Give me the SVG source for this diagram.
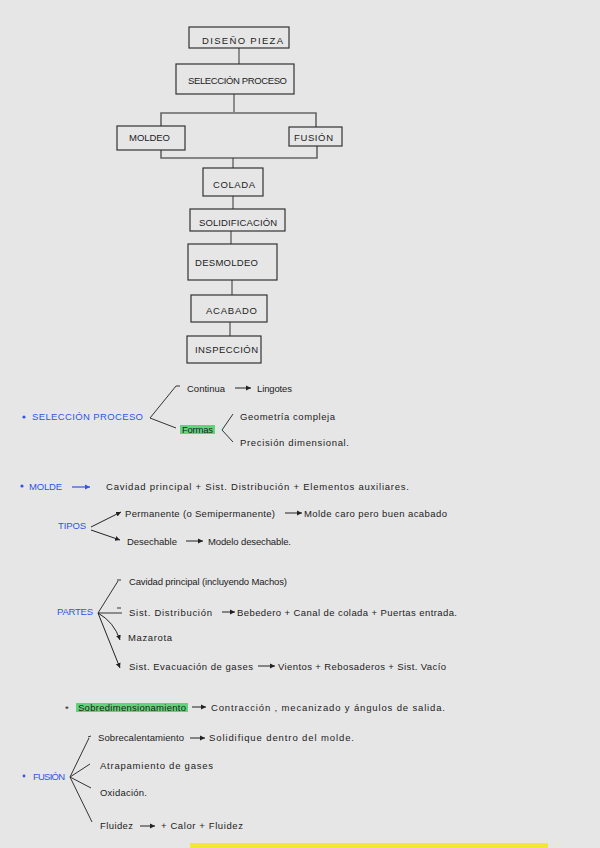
<svg xmlns="http://www.w3.org/2000/svg" width="600" height="848" viewBox="0 0 600 848">
<defs>
<style>
.bx{fill:none;stroke:#333;stroke-width:1.2}
.bt{font-family:"Liberation Sans",Arial,sans-serif;font-size:9.5px;fill:#222}
.t{font-family:"Liberation Sans",Arial,sans-serif;font-size:9.5px;fill:#222}
.b{font-family:"Liberation Sans",Arial,sans-serif;font-size:9.5px;fill:#2e55e6}
.ln{fill:none;stroke:#333;stroke-width:1}
.hl{fill:none;stroke:#666;stroke-width:1.6}
.ar{fill:none;stroke:#222;stroke-width:1;marker-end:url(#ah)}
.arb{fill:none;stroke:#2e55e6;stroke-width:1.2;marker-end:url(#ahb)}
.g{fill:#5fd47a}
</style>
<marker id="ah" markerWidth="6" markerHeight="6" refX="5" refY="3" orient="auto" markerUnits="userSpaceOnUse"><path d="M0,0.5 L5,3 L0,5.5 Z" fill="#222"/></marker>
<marker id="ahb" markerWidth="6" markerHeight="6" refX="5" refY="3" orient="auto" markerUnits="userSpaceOnUse"><path d="M0,0.5 L5,3 L0,5.5 Z" fill="#2e55e6"/></marker>
</defs>
<rect width="600" height="848" fill="#e6e6e6"/>
<g id="connectors">
<line class="ln" x1="239" y1="48" x2="239" y2="64"/>
<line class="ln" x1="234" y1="94" x2="234" y2="112"/>
<polyline class="hl" points="161,126 161,113 316,113 316,127"/>
<polyline class="hl" points="161,150 161,158 317,158 317,146"/>
<line class="ln" x1="233" y1="158" x2="233" y2="168"/>
<line class="ln" x1="233" y1="196" x2="233" y2="209"/>
<line class="ln" x1="231" y1="231" x2="231" y2="244"/>
<line class="ln" x1="232" y1="280" x2="232" y2="295"/>
<line class="ln" x1="230" y1="322" x2="230" y2="336"/>
</g>
<g id="n-diseno"><rect class="bx" x="189" y="27" width="100" height="21"/><text class="bt" x="202" y="44" textLength="81" lengthAdjust="spacing">DISEÑO PIEZA</text></g>
<g id="n-seleccion"><rect class="bx" x="176" y="64" width="118" height="30"/><text class="bt" x="188" y="84" textLength="99" lengthAdjust="spacing">SELECCIÓN PROCESO</text></g>
<g id="n-moldeo"><rect class="bx" x="117" y="126" width="68" height="24"/><text class="bt" x="129" y="141" textLength="41" lengthAdjust="spacing">MOLDEO</text></g>
<g id="n-fusion"><rect class="bx" x="289" y="127" width="53" height="19"/><text class="bt" x="294" y="141" textLength="39" lengthAdjust="spacing">FUSIÓN</text></g>
<g id="n-colada"><rect class="bx" x="203" y="168" width="60" height="28"/><text class="bt" x="213" y="188" textLength="42" lengthAdjust="spacing">COLADA</text></g>
<g id="n-solid"><rect class="bx" x="190" y="209" width="95" height="22"/><text class="bt" x="199" y="226" textLength="78" lengthAdjust="spacing">SOLIDIFICACIÓN</text></g>
<g id="n-desmoldeo"><rect class="bx" x="188" y="244" width="89" height="36"/><text class="bt" x="195" y="266" textLength="63" lengthAdjust="spacing">DESMOLDEO</text></g>
<g id="n-acabado"><rect class="bx" x="191" y="295" width="76" height="27"/><text class="bt" x="206" y="314" textLength="51" lengthAdjust="spacing">ACABADO</text></g>
<g id="n-inspeccion"><rect class="bx" x="187" y="336" width="74" height="27"/><text class="bt" x="195" y="353" textLength="63" lengthAdjust="spacing">INSPECCIÓN</text></g>

<g id="notes-seleccion">
<circle cx="24" cy="417" r="1.6" fill="#2e55e6"/>
<text class="b" x="32" y="420" textLength="111" lengthAdjust="spacing">SELECCIÓN PROCESO</text>
<polyline class="ln" points="176,386 150,418 176,428"/>
<line class="ln" x1="176" y1="386" x2="180" y2="386"/>
<text class="t" x="187" y="392" textLength="38" lengthAdjust="spacing">Continua</text>
<line class="ar" x1="235" y1="388" x2="251" y2="388"/>
<text class="t" x="257" y="392" textLength="35" lengthAdjust="spacing">Lingotes</text>
<rect class="g" x="180" y="425" width="35" height="9"/>
<text class="t" x="182" y="433" textLength="31" lengthAdjust="spacing">Formas</text>
<polyline class="ln" points="233,414 222,430 233,442"/>
<text class="t" x="240" y="420" textLength="95" lengthAdjust="spacing">Geometría compleja</text>
<text class="t" x="240" y="446" textLength="109" lengthAdjust="spacing">Precisión dimensional.</text>
</g>

<g id="notes-molde">
<circle cx="22" cy="486" r="1.6" fill="#2e55e6"/>
<text class="b" x="29" y="490" textLength="33" lengthAdjust="spacing">MOLDE</text>
<line class="arb" x1="72" y1="487" x2="90" y2="487"/>
<text class="t" x="106" y="490" textLength="303" lengthAdjust="spacing">Cavidad principal + Sist. Distribución + Elementos auxiliares.</text>
<text class="b" x="58" y="529" textLength="28" lengthAdjust="spacing">TIPOS</text>
<line class="ar" x1="91" y1="527" x2="121" y2="512"/>
<line class="ar" x1="91" y1="530" x2="120" y2="540"/>
<text class="t" x="125" y="517" textLength="150" lengthAdjust="spacing">Permanente (o Semipermanente)</text>
<line class="ar" x1="285" y1="513" x2="302" y2="513"/>
<text class="t" x="304" y="517" textLength="143" lengthAdjust="spacing">Molde caro pero buen acabado</text>
<text class="t" x="127" y="545" textLength="50" lengthAdjust="spacing">Desechable</text>
<line class="ar" x1="186" y1="541" x2="203" y2="541"/>
<text class="t" x="208" y="545" textLength="83" lengthAdjust="spacing">Modelo desechable.</text>
</g>

<g id="notes-partes">
<text class="b" x="57" y="615" textLength="36" lengthAdjust="spacing">PARTES</text>
<line class="ln" x1="98" y1="613" x2="118" y2="581"/>
<line class="ln" x1="117" y1="580" x2="121" y2="580"/>
<text class="t" x="129" y="585" textLength="158" lengthAdjust="spacing">Cavidad principal (incluyendo Machos)</text>
<line class="ln" x1="98" y1="613" x2="122" y2="613"/>
<line class="ln" x1="117" y1="608" x2="121" y2="608"/>
<text class="t" x="129" y="616" textLength="83" lengthAdjust="spacing">Sist. Distribución</text>
<line class="ar" x1="222" y1="612" x2="235" y2="612"/>
<text class="t" x="237" y="616" textLength="220" lengthAdjust="spacing">Bebedero + Canal de colada + Puertas entrada.</text>
<path class="ar" d="M98,613 Q114,622 120,640"/>
<text class="t" x="128" y="641" textLength="44" lengthAdjust="spacing">Mazarota</text>
<line class="ar" x1="98" y1="613" x2="120" y2="668"/>
<text class="t" x="129" y="670" textLength="124" lengthAdjust="spacing">Sist. Evacuación de gases</text>
<line class="ar" x1="258" y1="666" x2="275" y2="666"/>
<text class="t" x="278" y="670" textLength="168" lengthAdjust="spacing">Vientos + Rebosaderos + Sist. Vacío</text>
</g>

<g id="notes-sobre">
<text class="t" x="65" y="712">*</text>
<rect class="g" x="76" y="703" width="112" height="9"/>
<text class="t" x="78" y="711" textLength="108" lengthAdjust="spacing">Sobredimensionamiento</text>
<line class="ar" x1="192" y1="707" x2="206" y2="707"/>
<text class="t" x="211" y="711" textLength="234" lengthAdjust="spacing">Contracción , mecanizado y ángulos de salida.</text>
</g>

<g id="notes-fusion">
<circle cx="24" cy="776" r="1.4" fill="#2e55e6"/>
<text class="b" x="33" y="780" textLength="32" lengthAdjust="spacing">FUSIÓN</text>
<line class="ln" x1="70" y1="777" x2="89" y2="738"/>
<line class="ln" x1="88" y1="737" x2="91" y2="736"/>
<text class="t" x="98" y="741" textLength="86" lengthAdjust="spacing">Sobrecalentamiento</text>
<line class="ar" x1="190" y1="738" x2="205" y2="738"/>
<text class="t" x="209" y="741" textLength="145" lengthAdjust="spacing">Solidifique dentro del molde.</text>
<line class="ln" x1="70" y1="777" x2="90" y2="764"/>
<text class="t" x="100" y="769" textLength="113" lengthAdjust="spacing">Atrapamiento de gases</text>
<line class="ln" x1="70" y1="777" x2="91" y2="788"/>
<text class="t" x="100" y="796" textLength="47" lengthAdjust="spacing">Oxidación.</text>
<line class="ln" x1="70" y1="777" x2="92" y2="822"/>
<text class="t" x="100" y="829" textLength="33" lengthAdjust="spacing">Fluidez</text>
<line class="ar" x1="140" y1="826" x2="155" y2="826"/>
<text class="t" x="161" y="829" textLength="82" lengthAdjust="spacing">+ Calor + Fluidez</text>
</g>
<rect x="190" y="843" width="358" height="5" fill="#f2e830"/>
</svg>
